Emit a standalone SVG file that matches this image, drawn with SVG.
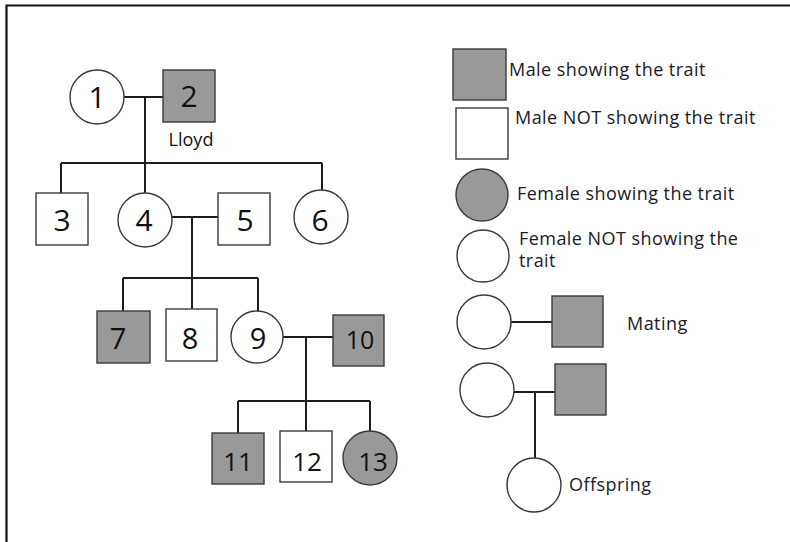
<svg xmlns="http://www.w3.org/2000/svg" width="790" height="542" viewBox="0 0 790 542">
<style>
.m{stroke:#3a3a3a;stroke-width:1.4}
.g{fill:#999999}
.w{fill:#ffffff}
.c{stroke:#1e1e1e;stroke-width:2;fill:none}
.n{font-family:"Open Sans","Liberation Sans",sans-serif;fill:#111;text-anchor:middle}
.l{font-family:"Open Sans","Liberation Sans",sans-serif;fill:#1a1a2a;font-size:18px;letter-spacing:0.45px}
</style>
<rect width="790" height="542" fill="#fff"/>
<path d="M6.5,542 V5.5 H790" fill="none" stroke="#111" stroke-width="2.2"/>
<g id="connectors">
<path class="c" d="M124,97 H163 M145,97 V163 M61,163 H322 M61,163 V193 M145,163 V193 M322,163 V191"/>
<path class="c" d="M172,217 H218 M192,217 V278 M123,278 H258 M123,278 V311 M192,278 V309 M258,278 V311"/>
<path class="c" d="M283,337 H333 M306,337 V401 M238,401 H370 M238,401 V433 M306,401 V431 M370,401 V431"/>
<path class="c" d="M511,322 H552"/>
<path class="c" d="M514,392 H555 M535,392 V458"/>
</g>
<g id="n1"><circle class="m w" cx="97" cy="97" r="27"/><text class="n" x="97" y="108" font-size="30">1</text></g>
<g id="n2"><rect class="m g" x="163" y="70" width="52" height="52"/><text class="n" x="189" y="107" font-size="30">2</text><text class="n" x="191" y="146" font-size="18">Lloyd</text></g>
<g id="n3"><rect class="m w" x="36" y="193" width="52" height="52"/><text class="n" x="62" y="231" font-size="30">3</text></g>
<g id="n4"><circle class="m w" cx="145" cy="220" r="27"/><text class="n" x="144" y="231" font-size="30">4</text></g>
<g id="n5"><rect class="m w" x="218" y="193" width="52" height="52"/><text class="n" x="245" y="231" font-size="30">5</text></g>
<g id="n6"><circle class="m w" cx="321" cy="217" r="27"/><text class="n" x="320" y="231" font-size="30">6</text></g>
<g id="n7"><rect class="m g" x="97" y="311" width="53" height="52"/><text class="n" x="118" y="349" font-size="29">7</text></g>
<g id="n8"><rect class="m w" x="166" y="309" width="51" height="52"/><text class="n" x="190" y="349" font-size="29">8</text></g>
<g id="n9"><circle class="m w" cx="257" cy="337" r="26"/><text class="n" x="258" y="349" font-size="29">9</text></g>
<g id="n10"><rect class="m g" x="333" y="315" width="51" height="51"/><text class="n" x="360" y="349" font-size="25">10</text></g>
<g id="n11"><rect class="m g" x="212" y="433" width="52" height="51"/><text class="n" x="238" y="471" font-size="26">11</text></g>
<g id="n12"><rect class="m w" x="280" y="431" width="52" height="51"/><text class="n" x="307" y="471" font-size="26">12</text></g>
<g id="n13"><circle class="m g" cx="370" cy="458" r="27"/><text class="n" x="373" y="471" font-size="26">13</text></g>
<g id="legend-male-affected"><rect class="m g" x="453" y="49" width="53" height="51"/><text class="l" x="509" y="76">Male showing the trait</text></g>
<g id="legend-male-unaffected"><rect class="m w" x="456" y="108" width="52" height="51"/><text class="l" x="515" y="124">Male NOT showing the trait</text></g>
<g id="legend-female-affected"><circle class="m g" cx="482" cy="195" r="26"/><text class="l" x="517" y="200">Female showing the trait</text></g>
<g id="legend-female-unaffected"><circle class="m w" cx="483" cy="256" r="26"/><text class="l" x="519" y="245">Female NOT showing the</text><text class="l" x="519" y="267">trait</text></g>
<g id="legend-mating"><circle class="m w" cx="484" cy="322" r="27"/><rect class="m g" x="552" y="296" width="51" height="51"/><text class="l" x="627" y="330">Mating</text></g>
<g id="legend-offspring"><circle class="m w" cx="487" cy="390" r="27"/><rect class="m g" x="555" y="364" width="51" height="51"/><circle class="m w" cx="534" cy="485" r="27"/><text class="l" x="569" y="491">Offspring</text></g>
</svg>
